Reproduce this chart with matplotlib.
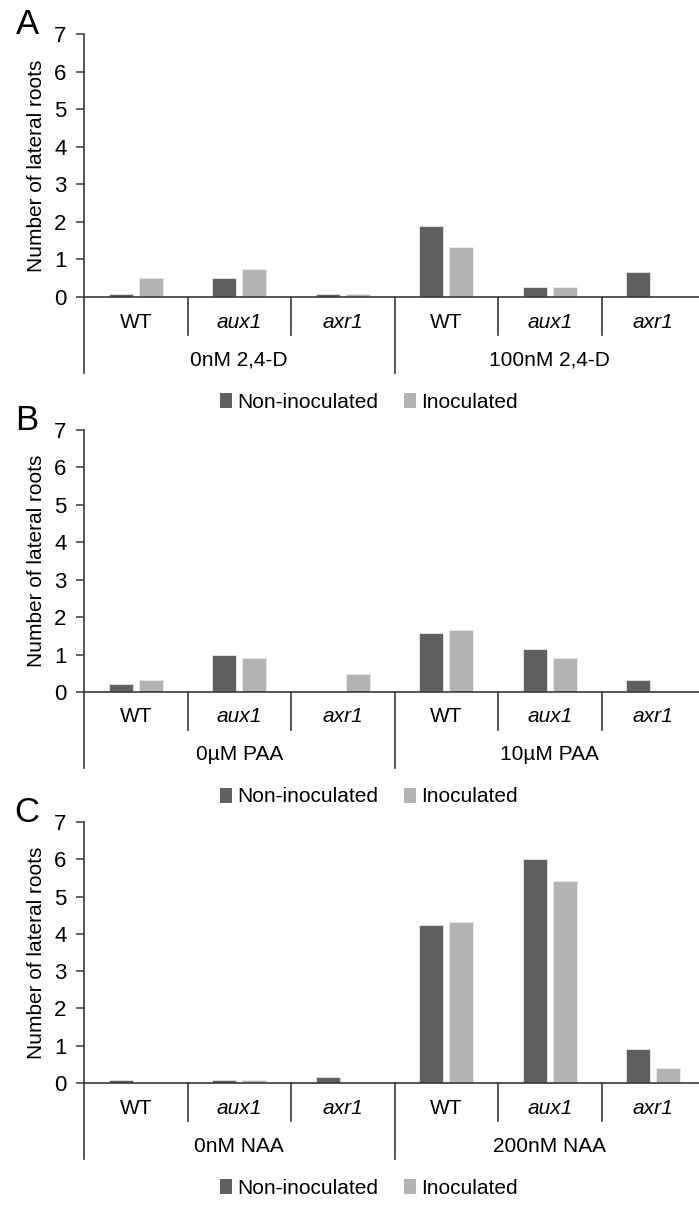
import matplotlib
matplotlib.use("Agg")
import matplotlib.pyplot as plt
import matplotlib.transforms as mtransforms
from matplotlib.patches import Patch

plt.rcParams['font.family'] = ['Liberation Sans', 'DejaVu Sans']

genotypes = ["WT", "aux1", "axr1", "WT", "aux1", "axr1"]
italic_genotypes = {"aux1", "axr1"}

panel_letters = ["A", "B", "C"]
treatments = [
    ["0nM 2,4-D", "100nM 2,4-D"],
    ["0\u00b5M PAA", "10\u00b5M PAA"],
    ["0nM NAA", "200nM NAA"],
]

non_inoc_24d = [0.08, 0.50, 0.08, 1.90, 0.26, 0.67]
inoc_24d = [0.50, 0.75, 0.08, 1.33, 0.26, 0.00]

non_inoc_paa = [0.22, 0.98, 0.00, 1.57, 1.15, 0.32]
inoc_paa = [0.32, 0.90, 0.47, 1.65, 0.90, 0.00]

non_inoc_naa = [0.08, 0.08, 0.17, 4.25, 6.00, 0.92]
inoc_naa = [0.00, 0.08, 0.00, 4.32, 5.42, 0.41]

series = [
    (non_inoc_24d, inoc_24d),
    (non_inoc_paa, inoc_paa),
    (non_inoc_naa, inoc_naa),
]

series_names = ["Non-inoculated", "Inoculated"]
DARK = "#606060"
LIGHT = "#b3b3b3"
AXIS_COLOR = "#3a3a3a"

W, H = 699, 1207
fig = plt.figure(figsize=(W / 100, H / 100), dpi=100)

# pixel geometry of each panel: (baseline y, top y)
panel_px = [(297, 34), (692, 430), (1083, 822)]
left_px = 84
cat_px = 103.5

bar_w = 0.23
offset = 0.145

for i, ((base, top), (non, inoc)) in enumerate(zip(panel_px, series)):
    h_px = base - top
    ax = fig.add_axes([left_px / W, 1 - base / H, 6 * cat_px / W, h_px / H])
    x = list(range(len(genotypes)))
    ax.bar([v - offset for v in x], non, width=bar_w, color=DARK,
           edgecolor="#e6e6e6", linewidth=0.6, zorder=2)
    ax.bar([v + offset for v in x], inoc, width=bar_w, color=LIGHT,
           edgecolor="#ececec", linewidth=0.6, zorder=2)
    ax.set_xlim(-0.5, 5.5)
    ax.set_ylim(0, 7)
    ax.set_yticks(range(0, 8))
    ax.tick_params(axis='y', labelsize=16, length=5.5, width=1.1,
                   color=AXIS_COLOR, pad=7)
    ax.set_xticks([])
    for s in ("top", "right"):
        ax.spines[s].set_visible(False)
    for s in ("left", "bottom"):
        ax.spines[s].set_color(AXIS_COLOR)
        ax.spines[s].set_linewidth(1.2)
    ax.set_ylabel("Number of lateral roots", fontsize=15, labelpad=6)

    trans = mtransforms.blended_transform_factory(ax.transData, ax.transAxes)

    # short dividers between genotypes, long dividers between treatments
    for xd in (0.5, 1.5, 3.5, 4.5):
        ax.add_line(plt.Line2D([xd, xd], [0, -38 / h_px], color=AXIS_COLOR,
                               lw=1.2, clip_on=False, transform=trans))
    for xd in (-0.5, 2.5, 5.5):
        ax.add_line(plt.Line2D([xd, xd], [0, -76 / h_px], color=AXIS_COLOR,
                               lw=1.2, clip_on=False, transform=trans))

    for xi, g in zip(x, genotypes):
        ax.text(xi, -25 / h_px, g, transform=trans, ha="center",
                va="center", fontsize=15,
                style="italic" if g in italic_genotypes else "normal")
    for gi, t in enumerate(treatments[i]):
        ax.text(1 + 3 * gi, -63 / h_px, t, transform=trans,
                ha="center", va="center", fontsize=15)

    handles = [Patch(facecolor=DARK, edgecolor="none"),
               Patch(facecolor=LIGHT, edgecolor="none")]
    ax.legend(handles, series_names, loc="center",
              bbox_to_anchor=((369 - left_px) / (6 * cat_px), -105 / h_px),
              ncol=2, frameon=False, fontsize=15, handlelength=0.58,
              handleheight=0.7, handletextpad=0.25, columnspacing=1.2,
              borderaxespad=0, borderpad=0)

    fig.text(27 / W, 1 - (top - 10) / H, panel_letters[i], fontsize=25,
             ha="center", va="center")

fig.savefig("out.png", dpi=100)
